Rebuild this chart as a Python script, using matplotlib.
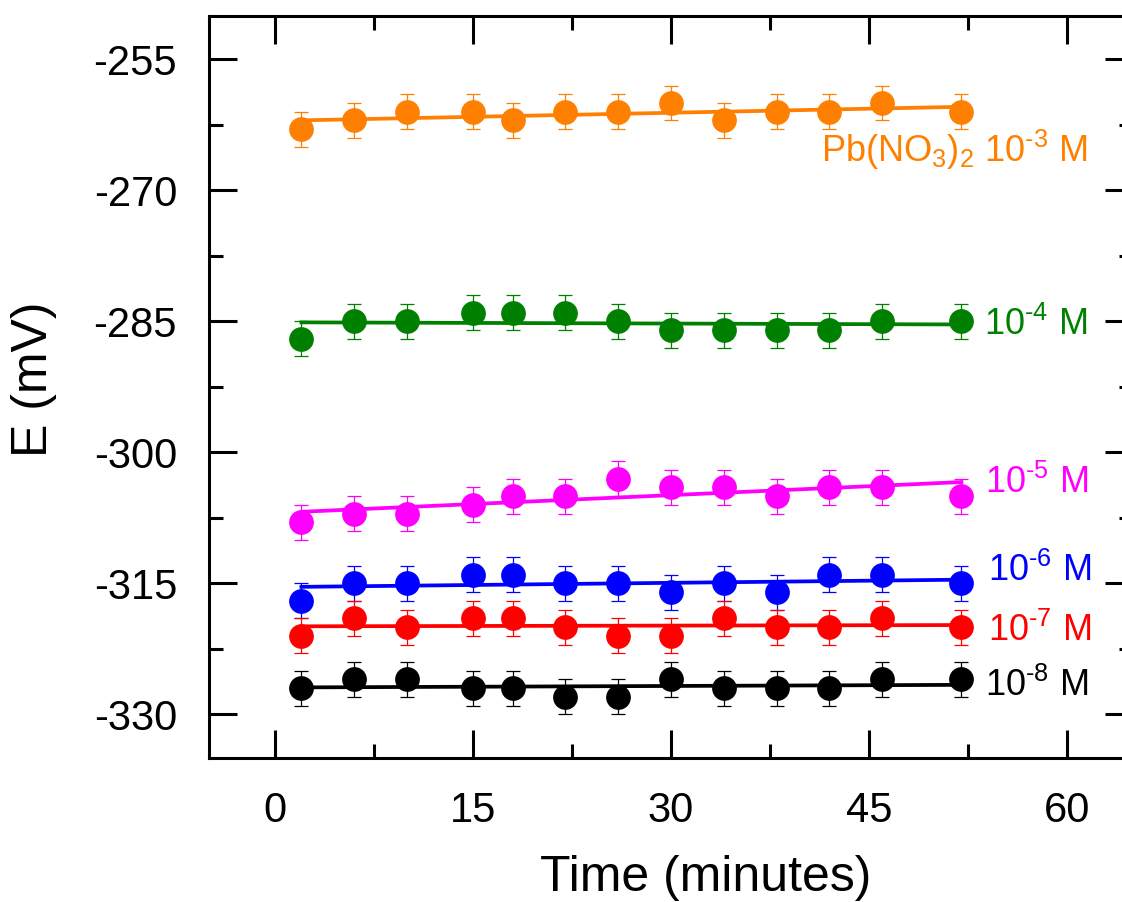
import numpy as np
import matplotlib.pyplot as plt
from matplotlib.ticker import MultipleLocator

plt.rcParams['font.family'] = ['Liberation Sans', 'DejaVu Sans']
plt.rcParams['mathtext.fontset'] = 'custom'
plt.rcParams['mathtext.rm'] = 'Liberation Sans'
plt.rcParams['mathtext.it'] = 'Liberation Sans'
plt.rcParams['axes.unicode_minus'] = False

# tempo (min)
time = [2, 6, 10, 15, 18, 22, 26, 30, 34, 38, 42, 46, 52]

# potencial (mV) para cada concentracao
e_1e3 = [-263, -262, -261, -261, -262, -261, -261, -260, -262, -261, -261, -260, -261]
e_1e4 = [-287, -285, -285, -284, -284, -284, -285, -286, -286, -286, -286, -285, -285]
e_1e5 = [-308, -307, -307, -306, -305, -305, -303, -304, -304, -305, -304, -304, -305]
e_1e6 = [-317, -315, -315, -314, -314, -315, -315, -316, -315, -316, -314, -314, -315]
e_1e7 = [-321, -319, -320, -319, -319, -320, -321, -321, -319, -320, -320, -319, -320]
e_1e8 = [-327, -326, -326, -327, -327, -328, -328, -326, -327, -327, -327, -326, -326]
erro = 2

series = [
    (e_1e3, '#FF8000', r'Pb(NO$_3$)$_2$ 10$^{\text{-3}}$ M', 41.4, -266.8),
    (e_1e4, '#008000', r'10$^{\text{-4}}$ M', 53.7, -286.6),
    (e_1e5, '#FF00FF', r'10$^{\text{-5}}$ M', 53.8, -304.6),
    (e_1e6, '#0000FF', r'10$^{\text{-6}}$ M', 54.0, -314.7),
    (e_1e7, '#FF0000', r'10$^{\text{-7}}$ M', 54.0, -321.6),
    (e_1e8, '#000000', r'10$^{\text{-8}}$ M', 53.8, -327.9),
]

fig = plt.figure(figsize=(11.22, 9.02), dpi=100)
ax = fig.add_axes([0.1863, 0.1596, 0.8235, 0.823])

t = np.array(time)
for y, cor, rotulo, tx, ty in series:
    y = np.array(y)
    a, b = np.polyfit(t, y, 1)  # ajuste linear
    ax.plot([t[0], t[-1]], [a * t[0] + b, a * t[-1] + b], color=cor, lw=2.7, zorder=2)
    ax.errorbar(t, y, yerr=erro, fmt='o', color=cor, ms=16.8, elinewidth=0.9,
                capsize=4.7, capthick=0.9, zorder=3)
    ax.text(tx, ty, rotulo, color=cor, fontsize=26, va='baseline', ha='left')

ax.set_xlim(-5, 65)
ax.set_ylim(-335, -250)
ax.xaxis.set_major_locator(MultipleLocator(15))
ax.xaxis.set_minor_locator(MultipleLocator(7.5))
ax.yaxis.set_major_locator(MultipleLocator(15))
ax.yaxis.set_minor_locator(MultipleLocator(7.5))

ax.tick_params(which='both', direction='in', top=True, right=True, width=2.2)
ax.tick_params(which='major', length=20, labelsize=30)
ax.tick_params(axis='x', which='major', pad=24)
ax.tick_params(axis='y', which='major', pad=23)
ax.tick_params(which='minor', length=10)
for s in ax.spines.values():
    s.set_linewidth(2.2)

ax.set_xlabel('Time (minutes)', fontsize=36)
ax.set_ylabel('E (mV)', fontsize=36)
ax.xaxis.set_label_coords(0.5375, -0.131, transform=ax.transAxes)
ax.yaxis.set_label_coords(-0.164, 0.51, transform=ax.transAxes)

plt.savefig('out.png', dpi=100)
